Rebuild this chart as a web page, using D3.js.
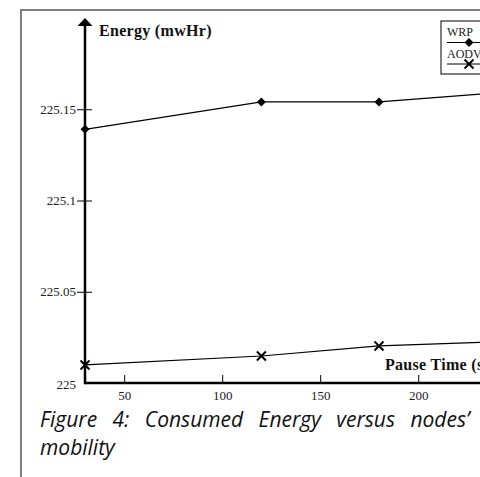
<!DOCTYPE html>
<html>
<head>
<meta charset="utf-8">
<script src="https://cdn.jsdelivr.net/npm/d3@7"></script>
<style>
  html, body { margin: 0; padding: 0; overflow: hidden; background: #fff; }
  .tick text { font-family: 'Liberation Serif', 'Times New Roman', serif; font-size: 13px; fill: #222; }
  .axis-title { font-family: 'Liberation Serif', 'Times New Roman', serif; font-weight: bold; font-size: 16px; fill: #111; letter-spacing: 0.3px; }
  .legend-text { font-family: 'Liberation Serif', 'Times New Roman', serif; font-size: 12px; fill: #222; }
  .caption { font-family: 'Open Sans', sans-serif; font-style: italic; font-size: 21px; fill: #111; }
</style>
</head>
<body>
<svg width="720" height="477"></svg>
<script>
const pauseTimes = [30, 120, 180, 240]
const wrpEnergy = [225.139, 225.154, 225.154, 225.159]
const aodvEnergy = [225.0099, 225.0148, 225.0203, 225.0226]
const xTicks = [50, 100, 150, 200, 250, 300]
const yTicks = [225, 225.05, 225.1, 225.15]

const svg = d3.select('svg')

const xScale = d3.scaleLinear()
  .domain([30, 300])
  .range([85, 85 + 270 * 1.96])

const yScale = d3.scaleLinear()
  .domain([225, 225.2])
  .range([383, 18])

// outer frame
svg.append('rect')
  .attr('x', 21).attr('y', 10)
  .attr('width', 800).attr('height', 600)
  .attr('fill', 'none')
  .attr('stroke', '#808080')
  .attr('stroke-width', 2)

// x axis
const xAxis = d3.axisTop(xScale)
  .tickValues(xTicks)
  .tickSize(8)
  .tickFormat(d3.format('d'))

const xAxisGroup = svg.append('g')
  .attr('transform', `translate(0, ${yScale(225)})`)
  .call(xAxis)

xAxisGroup.select('.domain').remove()
xAxisGroup.selectAll('.tick line').attr('stroke', '#000')
xAxisGroup.selectAll('.tick text')
  .attr('y', 8)
  .attr('dy', '0.71em')

svg.append('line')
  .attr('x1', xScale(30)).attr('x2', 720)
  .attr('y1', yScale(225)).attr('y2', yScale(225))
  .attr('stroke', '#000')
  .attr('stroke-width', 2.5)

// y axis
const yAxis = d3.axisLeft(yScale)
  .tickValues(yTicks)
  .tickSize(8)
  .tickPadding(1)
  .tickFormat(d => d3.format('')(+d.toFixed(2)))

const yAxisGroup = svg.append('g')
  .attr('transform', `translate(${xScale(30)}, 0)`)
  .call(yAxis)

yAxisGroup.select('.domain').remove()
yAxisGroup.selectAll('.tick line')
  .attr('x1', 7)
  .attr('stroke', '#000')
yAxisGroup.selectAll('.tick')
  .filter(d => d === 225)
  .each(function () {
    d3.select(this).select('line').remove()
    d3.select(this).select('text').attr('dy', '0.4em').attr('x', -9)
  })

svg.append('line')
  .attr('x1', xScale(30)).attr('x2', xScale(30))
  .attr('y1', yScale(225) + 1.2).attr('y2', 24)
  .attr('stroke', '#000')
  .attr('stroke-width', 2.5)

svg.append('path')
  .attr('d', `M${xScale(30)},18 L${xScale(30) - 7.5},26 L${xScale(30) + 7.5},26 Z`)
  .attr('fill', '#000')

svg.append('text')
  .attr('class', 'axis-title')
  .attr('x', 99).attr('y', 36)
  .text('Energy (mwHr)')

svg.append('text')
  .attr('class', 'axis-title')
  .attr('x', 385).attr('y', 370)
  .text('Pause Time (s)')

// series
const lineGenerator = (values) => d3.line()
  .x((d, i) => xScale(pauseTimes[i]))
  .y(d => yScale(d))(values)

svg.append('path')
  .attr('d', lineGenerator(wrpEnergy))
  .attr('fill', 'none')
  .attr('stroke', '#000')
  .attr('stroke-width', 1.2)

svg.append('path')
  .attr('d', lineGenerator(aodvEnergy))
  .attr('fill', 'none')
  .attr('stroke', '#000')
  .attr('stroke-width', 1.2)

const diamond = (x, y, r) => `M${x},${y - r} L${x + r},${y} L${x},${y + r} L${x - r},${y} Z`
const cross = (x, y, r) => `M${x - r},${y - r} L${x + r},${y + r} M${x - r},${y + r} L${x + r},${y - r}`

svg.append('g').selectAll('path')
  .data(wrpEnergy)
  .join('path')
  .attr('d', (d, i) => diamond(xScale(pauseTimes[i]), yScale(d), 4.5))
  .attr('fill', '#000')

svg.append('g').selectAll('path')
  .data(aodvEnergy)
  .join('path')
  .attr('d', (d, i) => cross(xScale(pauseTimes[i]), yScale(d), 4.5))
  .attr('stroke', '#000')
  .attr('stroke-width', 2)

// legend
const legend = svg.append('g')
legend.append('rect')
  .attr('x', 441).attr('y', 21)
  .attr('width', 120).attr('height', 53)
  .attr('fill', '#fff')
  .attr('stroke', '#000')
  .attr('stroke-width', 1)

legend.append('text').attr('class', 'legend-text').attr('x', 447).attr('y', 36).text('WRP')
legend.append('line').attr('x1', 447).attr('x2', 520).attr('y1', 42.5).attr('y2', 42.5).attr('stroke', '#000')
legend.append('path').attr('d', diamond(469, 42.5, 4.5)).attr('fill', '#000')

legend.append('text').attr('class', 'legend-text').attr('x', 447).attr('y', 58).text('AODV')
legend.append('line').attr('x1', 447).attr('x2', 520).attr('y1', 64).attr('y2', 64).attr('stroke', '#000')
legend.append('path').attr('d', cross(469, 64, 4.5)).attr('stroke', '#000').attr('stroke-width', 2)

// caption (justified first line, wraps before "mobility")
svg.append('text')
  .attr('class', 'caption')
  .attr('x', 40).attr('y', 427)
  .attr('word-spacing', 10)
  .text('Figure 4: Consumed Energy versus nodes\u2019')

svg.append('text')
  .attr('class', 'caption')
  .attr('x', 40).attr('y', 455)
  .text('mobility')
</script>
</body>
</html>
